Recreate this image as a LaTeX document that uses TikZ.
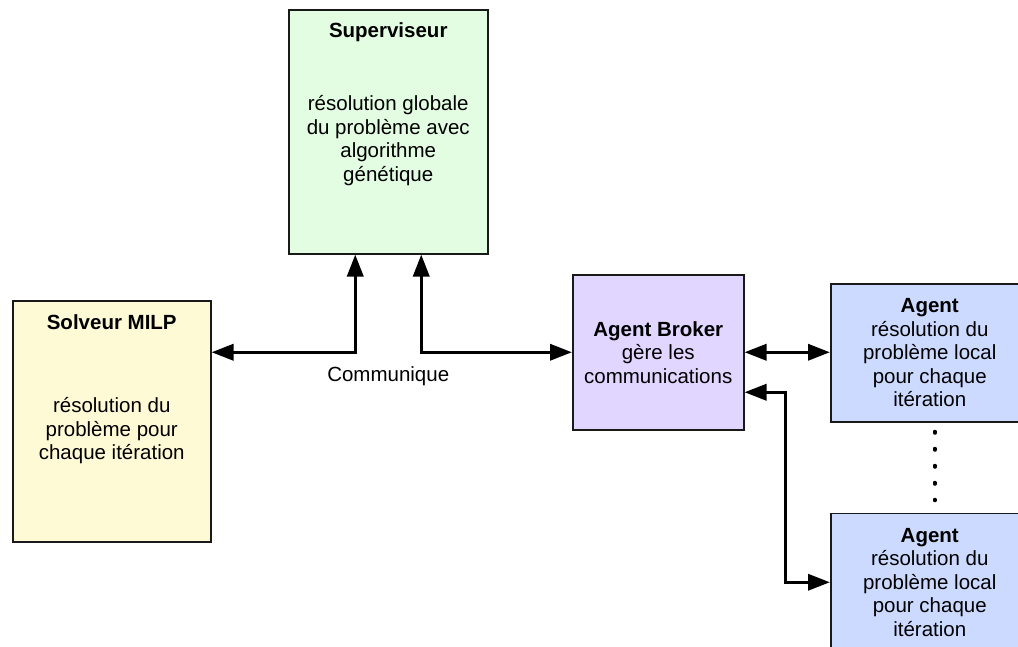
\documentclass[tikz,border=0pt]{standalone}
\usepackage{fontspec}
\setmainfont{Liberation Sans}
\usetikzlibrary{positioning, arrows.meta, calc}

\definecolor{supgreen}{RGB}{227,253,227}
\definecolor{solyellow}{RGB}{255,250,214}
\definecolor{brokerpurple}{RGB}{224,214,255}
\definecolor{agentblue}{RGB}{205,218,255}

\begin{document}
\begin{tikzpicture}[
  x=1pt, y=-1pt,                                  % coordonnées en pixels
  >={Triangle[length=22pt, width=16pt]},          % grosses pointes pleines
  font=\fontsize{20.5pt}{23.5pt}\selectfont,
  box/.style={draw=black!90, line width=1.5pt, rectangle, align=center, inner sep=0pt},
  boxtext/.style={align=center, inner sep=0pt},
  link/.style={<->, line width=3.5pt},
  dots/.style={line width=3.5pt, line cap=round, dash pattern=on 1.5pt off 15.5pt}
  ]
  \useasboundingbox (0,0) rectangle (1018,646);

  % --- Superviseur ---
  \node [box, fill=supgreen, minimum width=199pt, minimum height=244pt, anchor=north west] (superviseur) at (288,9) {};
  \node [boxtext, below=13.5pt of superviseur.north] (superviseur-txt)
    {\textbf{Superviseur}\\[49.5pt] résolution globale\\ du problème avec\\ algorithme\\ génétique};

  % --- Solveur MILP ---
  \node [box, fill=solyellow, minimum width=198pt, minimum height=241pt, anchor=north west] (solveur) at (12,300) {};
  \node [boxtext, below=14.5pt of solveur.north] (solveur-txt)
    {\textbf{Solveur MILP}\\[59.5pt] résolution du\\ problème pour\\ chaque itération};

  % --- Agent Broker ---
  \node [box, fill=brokerpurple, minimum width=171pt, minimum height=155pt, anchor=north west] (broker) at (572,274)
    {\textbf{Agent Broker}\\ gère les\\ communications};

  % --- Agents ---
  \node [box, fill=agentblue, minimum width=198pt, minimum height=138pt, anchor=north west] (agent1) at (830,283)
    {\textbf{Agent}\\ résolution du\\ problème local\\ pour chaque\\ itération};
  \node [box, fill=agentblue, minimum width=198pt, minimum height=138pt, below=90pt of agent1] (agent2)
    {\textbf{Agent}\\ résolution du\\ problème local\\ pour chaque\\ itération};

  % --- liaisons ---
  \draw [link] (solveur.east |- broker.west) -| ($(superviseur.south)+(-33pt,0)$);
  \draw [link] ($(superviseur.south)+(33pt,0)$) |- (broker.west);
  \node (communique) at ($(superviseur.south)+(0,-122pt)$) {Communique};

  \draw [link] (broker.east) -- (broker.east -| agent1.west);
  \draw [link] ($(broker.east)+(0,-40pt)$) -- ++(41pt,0) |- (agent2.west);

  \draw [dots] ($(agent1.south)+(5pt,-9pt)$) -- ($(agent2.north)+(5pt,12pt)$);

\end{tikzpicture}
\end{document}
